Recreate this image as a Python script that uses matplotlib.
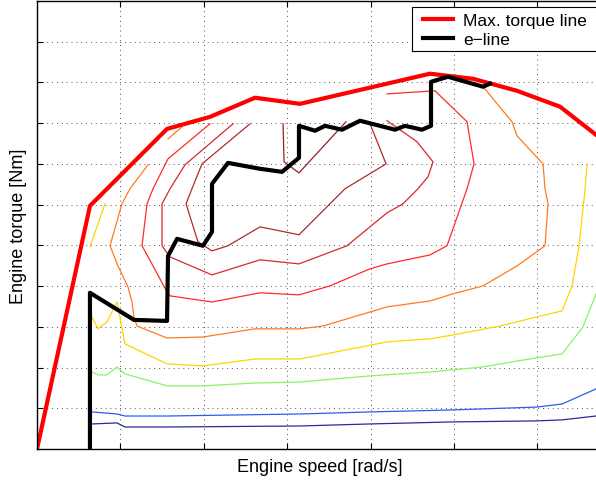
import matplotlib
matplotlib.use("Agg")
import matplotlib.pyplot as plt
from matplotlib.patches import Rectangle

plt.rcParams['font.family'] = ['Liberation Sans', 'DejaVu Sans']

# Max torque line
max_speed = [0, 63.5, 155.9, 207.4, 261.4, 315.3, 471.2, 522.8, 575.5, 627.1, 670.2]
max_torque = [0, 119.4, 157.2, 163.1, 172.5, 169.5, 184.3, 181.8, 175.9, 168.1, 154.3]

# e-line
e_speed = [63.5, 63.5, 116.3, 155.9, 157.1, 167.9, 199.0, 209.8, 209.8, 229.0, 267.4, 293.8,
           314.1, 314.1, 333.3, 345.3, 365.7, 387.3, 429.2, 441.2, 461.6, 472.4, 472.4,
           492.8, 534.8, 543.1]
e_torque = [0, 76.7, 63.4, 62.9, 94.8, 103.2, 99.8, 106.6, 130.2, 140.5, 137.6, 136.1,
            143.0, 158.7, 156.3, 158.7, 156.8, 161.2, 156.8, 158.7, 156.8, 158.7, 180.3,
            182.8, 177.9, 179.4]

# Efficiency contour lines (outer -> inner)
navy_x = [65.9, 95.9, 105.5, 155.9, 315.3, 399.3, 498.8, 599.5, 629.5, 670.2]
navy_y = [12.3, 12.8, 10.8, 10.8, 11.3, 12.3, 13.3, 13.8, 14.3, 16.2]

blue_x = [65.9, 95.9, 105.5, 155.9, 315.3, 399.3, 498.8, 599.5, 629.5, 670.2]
blue_y = [18.2, 17.2, 16.2, 16.2, 17.2, 18.2, 19.2, 20.6, 22.1, 29.5]

green_x = [65.9, 73.1, 83.9, 95.9, 105.5, 155.9, 199.0, 261.4, 315.3, 399.3, 471.2, 534.8,
           575.5, 629.5, 654.7, 670.2]
green_y = [37.8, 36.4, 36.4, 40.3, 36.9, 31.0, 31.0, 32.4, 32.9, 35.9, 37.8, 40.3,
           43.2, 46.7, 60.0, 76.2]

yellow1_x = [81.5, 63.5]
yellow1_y = [120.4, 99.3]
yellow2_x = [65.9, 73.1, 83.9, 95.9, 105.5, 155.9, 199.0, 261.4, 315.3, 419.7, 471.2, 498.8,
             555.1, 599.5, 629.5, 641.5, 649.9, 657.1, 659.5]
yellow2_y = [64.9, 59.0, 62.4, 72.2, 51.6, 41.8, 40.8, 44.2, 44.2, 52.6, 54.1, 56.0,
             60.4, 64.9, 67.8, 80.1, 99.8, 127.8, 140.0]

orange1_x = [157.1, 173.9]
orange1_y = [152.3, 158.2]
orange2_x = [133.1, 111.5, 101.9, 87.5, 97.1, 109.1, 113.9, 116.3, 119.9, 155.9, 199.0,
             261.4, 315.3, 342.9, 399.3, 419.7, 471.2, 498.8, 534.8, 575.5, 609.1, 612.7,
             609.1, 606.7, 575.5, 569.5, 534.8]
orange2_y = [139.6, 127.8, 120.4, 99.8, 89.9, 79.6, 72.2, 64.9, 60.4, 54.5, 55.0,
             59.0, 59.0, 60.4, 67.3, 69.8, 72.7, 76.2, 80.1, 89.9, 99.8, 120.4,
             127.8, 140.0, 153.8, 160.7, 177.9]

redC_x = [207.4, 157.1, 153.5, 139.1, 131.9, 125.9, 139.1, 155.9, 159.5, 209.8, 267.4,
          314.1, 351.3, 399.3, 419.7, 471.2, 491.6, 515.6, 524.0, 515.6, 477.2, 419.7]
redC_y = [159.7, 142.5, 139.6, 127.8, 120.4, 99.8, 89.9, 77.1, 75.2, 72.2, 76.7,
          75.7, 80.1, 88.5, 90.9, 95.3, 99.8, 127.8, 140.0, 160.7, 175.9, 174.4]

redB_x = [235.0, 177.5, 159.5, 149.9, 149.9, 159.5, 209.8, 267.4, 314.1, 371.7, 419.7,
          438.8, 456.8, 468.8, 474.8, 455.6, 419.7]
redB_y = [159.7, 139.6, 127.8, 120.4, 99.8, 94.3, 85.5, 92.9, 90.9, 99.8, 116.0,
          120.4, 127.8, 133.7, 141.0, 150.9, 161.2]

redA_x = [255.4, 197.8, 185.8, 178.7, 193.0, 209.8, 229.0, 267.4, 314.1, 369.3, 418.5, 399.3]
redA_y = [159.7, 140.0, 127.8, 120.4, 101.7, 97.3, 99.8, 109.1, 105.2, 127.8, 140.0, 159.7]

redE_x = [295.0, 296.2, 314.1, 370.5]
redE_y = [159.7, 141.0, 135.6, 160.7]

contours = [
    (navy_x, navy_y, '#2a2a96'),
    (blue_x, blue_y, '#2a5cf2'),
    (green_x, green_y, '#88f466'),
    (yellow1_x, yellow1_y, '#ffd400'),
    (yellow2_x, yellow2_y, '#ffd400'),
    (orange1_x, orange1_y, '#ff7a1f'),
    (orange2_x, orange2_y, '#ff7a1f'),
    (redC_x, redC_y, '#ff2a2a'),
    (redB_x, redB_y, '#d42a2a'),
    (redA_x, redA_y, '#b22a2a'),
    (redE_x, redE_y, '#a01c1c'),
]

W, H = 596, 481
fig = plt.figure(figsize=(W / 100, H / 100), dpi=100)
ax = fig.add_axes([37 / W, 31 / H, 566 / W, 448 / H])

for xs, ys, c in contours:
    ax.plot(xs, ys, color=c, lw=0.9)

ax.plot(max_speed, max_torque, color='#ff0000', lw=3, label='Max. torque line')
ax.plot(e_speed, e_torque, color='black', lw=3, label='e\u2212line')

ax.set_xlim(0, 678.6)
ax.set_ylim(0, 220)
ax.set_xticks([100, 200, 300, 400, 500, 600])
ax.set_yticks([20, 40, 60, 80, 100, 120, 140, 160, 180, 200])
ax.set_xticklabels([])
ax.set_yticklabels([])
ax.tick_params(direction='in', length=4, width=0.8, top=True, right=True)
ax.grid(True, linestyle=(0, (1, 4)), color='#555555', lw=0.7)
for s in ax.spines.values():
    s.set_linewidth(1.0)

ax.set_xlabel('Engine speed [rad/s]', fontsize=13, labelpad=3)
ax.set_ylabel('Engine torque [Nm]', fontsize=13, labelpad=4)

# legend box (MATLAB style, wider horizontal padding)
box = Rectangle((412 / W, 1 - 52 / H), (606 - 412) / W, 44 / H, transform=fig.transFigure,
                facecolor='white', edgecolor='black', lw=0.8, zorder=4.5, clip_on=False)
ax.add_artist(box)

leg = ax.legend(loc='upper left', bbox_to_anchor=(423 / W, 1 - 14 / H),
                bbox_transform=fig.transFigure, fontsize=12.5, frameon=False,
                handlelength=1.75, handletextpad=0.55, borderaxespad=0, borderpad=0,
                labelspacing=0.22)
leg.set_zorder(5)

fig.savefig('out.png', dpi=100)
